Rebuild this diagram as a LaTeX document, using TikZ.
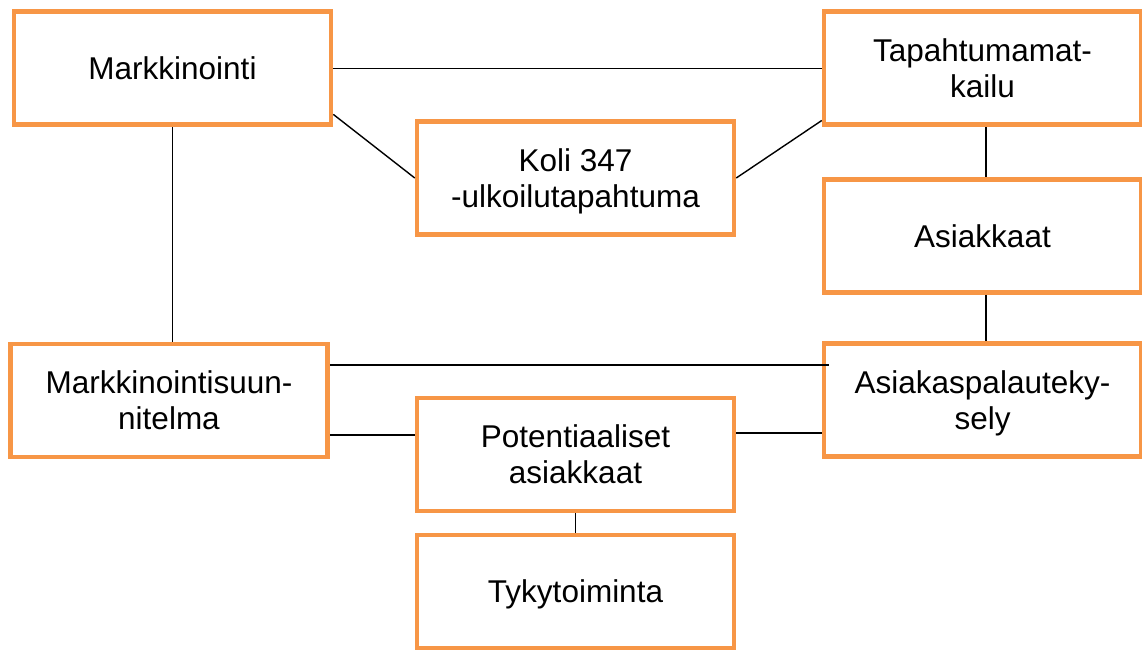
\documentclass[tikz,border=0pt]{standalone}
\usepackage{fontspec}
\setmainfont{Liberation Sans}
\usetikzlibrary{calc}
\definecolor{boxorange}{HTML}{F79646}
\begin{document}
\begin{tikzpicture}[x=1pt,y=-1pt,
  box/.style={draw=boxorange, line width=4.5pt, fill=white,
    minimum width=317pt, minimum height=113pt, align=center,
    inner sep=0pt, font=\fontsize{31.5}{36}\selectfont},
  link/.style={draw=black, line width=1.4pt}]
\useasboundingbox (0,0) rectangle (1142,650);
\node[box] (M)  at (172.5,68.25) {Markkinointi};
\node[box] (T)  at (982.5,68.25) {Tapahtumamat-\\kailu};
\node[box] (K)  at (575.5,178)   {Koli 347\\\smash{-ulkoilutapahtuma}};
\node[box] (A)  at (982.5,236)   {Asiakkaat};
\node[box] (MS) at (169,400.5)   {Markkinointisuun-\\nitelma};
\node[box] (AP) at (982.5,400)   {Asiakaspalauteky-\\\smash{sely}};
\node[box] (P)  at (575.5,454.5) {Potentiaaliset\\asiakkaat};
\node[box, text depth=0pt] (Ty) at (575.5,591.5) {Tykytoiminta};
% connectors
\draw[link] (M.east) -- (T.west);
\draw[link] (M.-16.2) -- (K.west);
\draw[link] (K.east) -- (T.198.5);
\draw[link] (M.south) -- (M.south |- MS.north);
\draw[link] ([xshift=3.5pt]T.south) -- ([xshift=3.5pt]A.north);
\draw[link] ([xshift=3.5pt]A.south) -- ([xshift=3.5pt]AP.north);
\coordinate (msAP) at ([yshift=35.5pt]MS.east);
\draw[link] (msAP) -- ($(msAP -| AP.west)+(7,0)$);
\coordinate (msP) at ([yshift=-34.5pt]MS.east);
\draw[link] (msP) -- (msP -| P.west);
\coordinate (pAP) at ([yshift=21.5pt]P.east);
\draw[link] (pAP) -- (pAP -| AP.west);
\draw[link] (P.south) -- (Ty.north);
\end{tikzpicture}
\end{document}
